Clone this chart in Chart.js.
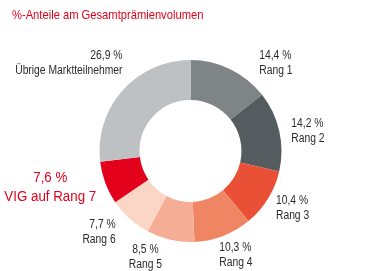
<!DOCTYPE html>
<html>
<head>
<meta charset="utf-8">
<script src="https://cdn.jsdelivr.net/npm/chart.js@4"></script>
<style>
html, body { margin: 0; padding: 0; background: #fff; }
#wrap { width: 381px; height: 271px; position: relative; }
</style>
</head>
<body>
<div id="wrap"><canvas id="share"></canvas></div>
<script>
// data
var categories = ['Rang 1', 'Rang 2', 'Rang 3', 'Rang 4', 'Rang 5', 'Rang 6', 'VIG auf Rang 7', 'Übrige Marktteilnehmer'];
var shares = [14.4, 14.2, 10.4, 10.3, 8.5, 7.7, 7.6, 26.9];
var title = '%-Anteile am Gesamtprämienvolumen';

var colors = ['#7f8487', '#555c60', '#e95035', '#f08563', '#f5ae95', '#fbd6c7', '#e3001b', '#bdc1c4'];
// label offset from the outer middle of each slice: dx, dy, align
var label_pos = [
    [29, -10, 'left'],
    [12, -4, 'left'],
    [8, 5, 'left'],
    [-4, 15, 'left'],
    [-25, 13, 'center'],
    [-14, 9, 'right'],
    [-55, -1, 'center'],
    [0, -32, 'right']
];
const FONT = 'Arial, "Liberation Sans", sans-serif';
const RED = '#e3001b';
const TEXT = '#2b2b2b';
const SQUEEZE = 0.86;   // no narrow face installed, squeeze it by hand

function fmt(v)
{
    return v.toFixed(1).replace('.', ',') + ' %';
}

function narrow_text(ctx, str, x, y, align)
{
    ctx.save();
    ctx.translate(x, y);
    ctx.scale(SQUEEZE, 1);
    ctx.textAlign = align;
    ctx.fillText(str, 0, 0);
    ctx.restore();
}

var labels_plugin = {
    id: 'labels',
    afterDraw: function(chart) {
	var ctx = chart.ctx;
	ctx.save();
	ctx.textBaseline = 'alphabetic';

	ctx.fillStyle = RED;
	ctx.font = '13px ' + FONT;
	narrow_text(ctx, title, 12, 19, 'left');

	var meta = chart.getDatasetMeta(0);
	meta.data.forEach(function(arc, i) {
	    var mid = (arc.startAngle + arc.endAngle) / 2;
	    var x = arc.x + Math.cos(mid) * arc.outerRadius + label_pos[i][0];
	    var y = arc.y + Math.sin(mid) * arc.outerRadius + label_pos[i][1];
	    var vig = (i == 6);

	    ctx.fillStyle = vig ? RED : TEXT;
	    ctx.font = (vig ? '15.5px ' : '12px ') + FONT;
	    narrow_text(ctx, fmt(shares[i]), x, y, label_pos[i][2]);
	    narrow_text(ctx, categories[i], x, y + (vig ? 19 : 15), label_pos[i][2]);
	});
	ctx.restore();
    }
};

new Chart(document.getElementById('share'), {
    type: 'doughnut',
    data: {
	labels: categories,
	datasets: [{
	    data: shares,
	    backgroundColor: colors,
	    borderWidth: 0
	}]
    },
    options: {
	responsive: true,
	maintainAspectRatio: false,
	animation: false,
	cutout: '56%',
	layout: {
	    padding: { top: 60, bottom: 29, left: 0, right: 0 }
	},
	plugins: {
	    legend: { display: false },
	    tooltip: { enabled: false }
	}
    },
    plugins: [labels_plugin]
});
</script>
</body>
</html>
